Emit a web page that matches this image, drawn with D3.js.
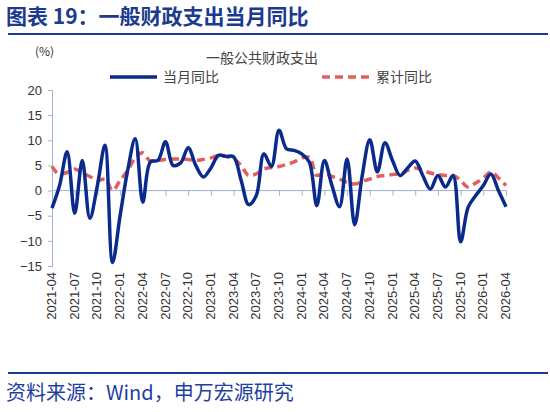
<!DOCTYPE html>
<html><head><meta charset="utf-8">
<script src="https://cdn.jsdelivr.net/npm/d3@7"></script>
<style>body{margin:0;background:#fff}svg{font-family:"Noto Sans CJK SC",sans-serif}</style>
</head><body><svg id="c" width="550" height="412"></svg>
<script>
const monthly = [-3.5,1,7.7,-4.5,6,-5.5,1,9,-14.3,-5,4,10.3,-2.3,5.7,6,9.7,5,5.5,8.5,5,2.7,4.5,7,6.8,6.7,2,-2.8,-1,7.3,4.8,12,8.3,8,7.3,5.7,-3,6,1,-3.2,6.3,-6.8,3,10.1,3.7,9.5,6,3,4.5,5.9,3,0.3,3,0.7,3,-10.2,-3.3,-1,1,3.3,0,-3.2];
const cumulative = [4.8,3.3,3.6,4.3,3.5,2.8,2,2.3,0,2,4,6.5,7.5,5.9,6,6.2,6.3,6.3,6.2,6,6.2,6.5,7,6.8,6.3,5,3,3.3,4.3,4.6,4.8,5.2,5.7,6.5,6.7,3,3.3,2.8,2.3,1.6,1.3,1.8,2.3,2.8,3,3.2,3.3,4,4.5,4,3.5,3.2,3,3,2,0.7,1.5,2.5,3.7,2.5,1];
const startYear = 2021, startMonth = 4;
const yTicks = [-15,-10,-5,0,5,10,15,20];
const labels = d3.range(0,61,3).map(i=>{const t=startMonth-1+i;const y=startYear+Math.floor(t/12);const m=t%12+1;return y+"-"+String(m).padStart(2,"0");});

const svg = d3.select("#c");
const blue="#0a2a8c", red="#e06060", axisC="#9fb3d6";
svg.append("text").attr("x",6).attr("y",24).attr("font-size",21).attr("font-weight","bold").attr("fill","#1a3b8f").text("图表 19：一般财政支出当月同比");
svg.append("line").attr("x1",8).attr("x2",548).attr("y1",34).attr("y2",34).attr("stroke","#1a3b8f").attr("stroke-width",2);
svg.append("line").attr("x1",8).attr("x2",548).attr("y1",373).attr("y2",373).attr("stroke","#1a3b8f").attr("stroke-width",2);
svg.append("text").attr("x",6).attr("y",400).attr("font-size",20).attr("fill","#1f3f9f").text("资料来源：Wind，申万宏源研究");

const x = d3.scaleLinear().domain([0,60]).range([52,506]);
const y = d3.scaleLinear().domain([-15,20]).range([266,90]);

svg.append("text").attr("x",35).attr("y",56).attr("font-size",12).attr("fill","#333").text("(%)");
svg.append("text").attr("x",262).attr("y",63).attr("text-anchor","middle").attr("font-size",14).attr("fill","#444").text("一般公共财政支出");
svg.append("line").attr("x1",110).attr("x2",157).attr("y1",77).attr("y2",77).attr("stroke",blue).attr("stroke-width",3.5);
svg.append("text").attr("x",163).attr("y",82).attr("font-size",14).attr("fill","#444").text("当月同比");
svg.append("line").attr("x1",322).attr("x2",370).attr("y1",77).attr("y2",77).attr("stroke",red).attr("stroke-width",3.5).attr("stroke-dasharray","8,5");
svg.append("text").attr("x",376).attr("y",82).attr("font-size",14).attr("fill","#444").text("累计同比");

const ya = svg.append("g").attr("transform","translate(52,0)").call(d3.axisLeft(y).tickValues(yTicks).tickSize(4).tickPadding(6));
ya.selectAll("path,line").attr("stroke",axisC);
ya.selectAll("text").attr("font-size",13).attr("fill","#333").attr("font-family","Liberation Sans, Arial");
const xa = svg.append("g").attr("transform",`translate(0,${y(0)})`).call(d3.axisBottom(x).tickValues(d3.range(0,61,3)).tickSize(5).tickFormat(""));
xa.selectAll("path,line").attr("stroke",axisC);
xa.select("path").attr("d",`M52,0H506`);
svg.append("g").selectAll("text").data(labels).join("text")
  .attr("transform",(d,i)=>`translate(${x(i*3)+4},272) rotate(-90)`)
  .attr("text-anchor","end").attr("font-size",13).attr("fill","#333").attr("font-family","Liberation Sans, Arial").text(d=>d);

const line = d3.line().x((d,i)=>x(i)).y(d=>y(d)).curve(d3.curveMonotoneX);
svg.append("path").attr("d",line(cumulative)).attr("fill","none").attr("stroke",red).attr("stroke-width",3.5).attr("stroke-dasharray","8,5");
svg.append("path").attr("d",d3.line().x((d,i)=>x(i)).y(d=>y(d)).curve(d3.curveCatmullRom)(monthly)).attr("fill","none").attr("stroke",blue).attr("stroke-width",3.5);
</script></body></html>
